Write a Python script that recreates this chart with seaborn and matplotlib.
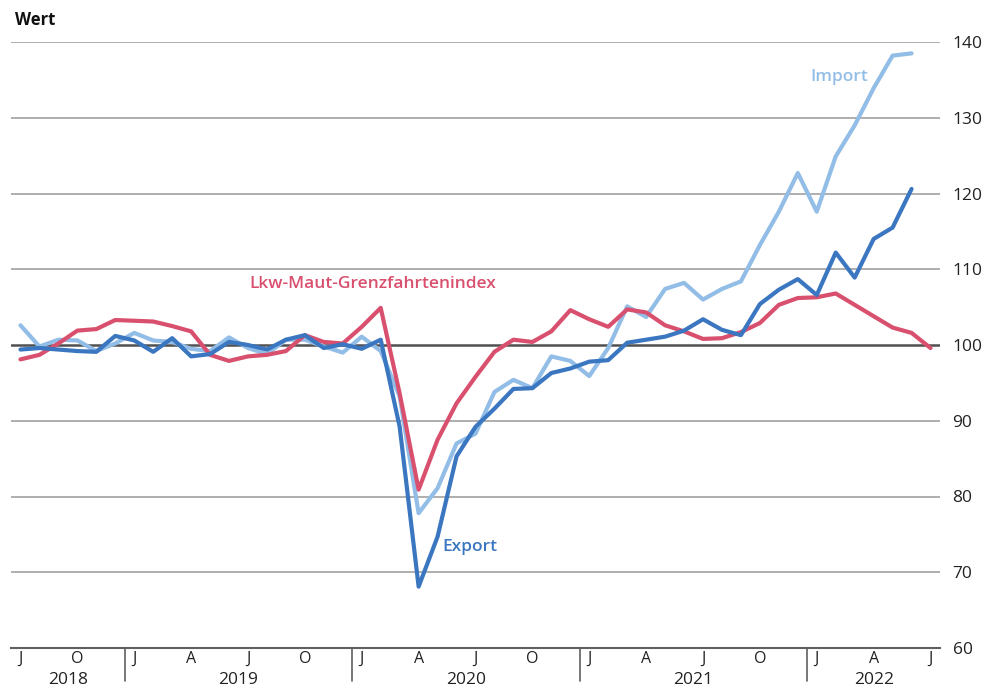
import pandas as pd
import matplotlib.pyplot as plt
import seaborn as sns

# monthly values, Jul 2018 .. Jul 2022
month_letters = ["J", "O", "J", "A"]
years = ["2018", "2019", "2020", "2021", "2022"]
year_start_month = 7  # series starts in July 2018

lkw = [98.1, 98.7, 100.2, 101.9, 102.1, 103.3, 103.2, 103.1, 102.5, 101.8,
       98.7, 97.9, 98.5, 98.7, 99.2, 101.3, 100.4, 100.2, 102.4, 104.9,
       93.6, 80.9, 87.5, 92.3, 95.8, 99.1, 100.7, 100.4, 101.8, 104.6,
       103.4, 102.4, 104.7, 104.3, 102.6, 101.8, 100.8, 100.9, 101.7, 102.9,
       105.3, 106.2, 106.3, 106.8, 105.3, 103.8, 102.3, 101.6, 99.6]

imp = [102.6, 99.8, 100.7, 100.6, 99.2, 100.2, 101.6, 100.6, 100.4, 99.5,
       99.2, 101.0, 99.6, 98.8, 100.7, 100.7, 99.8, 99.0, 101.1, 99.2,
       93.2, 77.8, 81.1, 87.0, 88.3, 93.8, 95.4, 94.3, 98.5, 97.9,
       95.9, 99.6, 105.1, 103.7, 107.4, 108.2, 106.0, 107.4, 108.4, 113.2,
       117.6, 122.7, 117.6, 124.9, 129.0, 133.9, 138.2, 138.5]

exp = [99.4, 99.6, 99.4, 99.2, 99.1, 101.2, 100.6, 99.1, 100.9, 98.5,
       98.8, 100.4, 100.0, 99.4, 100.7, 101.3, 99.6, 100.1, 99.5, 100.7,
       89.2, 68.1, 74.7, 85.3, 89.2, 91.6, 94.2, 94.3, 96.3, 96.9,
       97.8, 98.0, 100.3, 100.7, 101.1, 101.9, 103.4, 102.0, 101.3, 105.4,
       107.3, 108.7, 106.6, 112.2, 108.9, 114.0, 115.5, 120.6]

c_lkw = "#d9506f"
c_imp = "#92bde6"
c_exp = "#3b76c0"

n = len(lkw)
df_lkw = pd.DataFrame({"t": range(len(lkw)), "v": lkw})
df_imp = pd.DataFrame({"t": range(len(imp)), "v": imp})
df_exp = pd.DataFrame({"t": range(len(exp)), "v": exp})

sns.set_style("white")
plt.rcParams["font.family"] = ["Open Sans", "DejaVu Sans"]

fig = plt.figure(figsize=(9.94, 6.89), dpi=100)
ax = fig.add_axes([11 / 994, 41 / 689, 929 / 994, 606 / 689])

for yv in range(60, 141, 10):
    if yv != 100:
        ax.axhline(yv, color="#a8a8a8", lw=1.3, zorder=1)
ax.axhline(100, color="#505050", lw=1.8, zorder=1)

sns.lineplot(data=df_imp, x="t", y="v", color=c_imp, lw=3, ax=ax, zorder=3)
sns.lineplot(data=df_lkw, x="t", y="v", color=c_lkw, lw=3, ax=ax, zorder=4)
sns.lineplot(data=df_exp, x="t", y="v", color=c_exp, lw=3, ax=ax, zorder=5)

ax.set_xlim(-0.5, n - 0.5)
ax.set_ylim(60, 140)

for s in ["top", "left", "right"]:
    ax.spines[s].set_visible(False)
ax.spines["bottom"].set_color("#606060")
ax.spines["bottom"].set_linewidth(1.5)

# y axis on the right
ax.yaxis.tick_right()
ax.set_yticks(range(60, 141, 10))
ax.tick_params(axis="y", length=0, pad=9, labelsize=12.5, labelcolor="#222222")
ax.set_xlabel("")
ax.set_ylabel("")

# month boundary ticks, month letters between them
ax.set_xticks([i - 0.5 for i in range(n + 1)])
ax.set_xticklabels([])
ax.tick_params(axis="x", which="major", length=6, width=1, color="#606060", direction="out")
lab_pos = list(range(0, n, 3))
ax.set_xticks(lab_pos, minor=True)
ax.set_xticklabels([month_letters[k % 4] for k in range(len(lab_pos))], minor=True)
ax.tick_params(axis="x", which="minor", length=0, pad=2, labelsize=11.5, labelcolor="#222222")

# year separators and year labels
xt = ax.get_xaxis_transform()
first_jan = 13 - year_start_month
bounds = [-0.5] + [first_jan - 0.5 + 12 * k for k in range(len(years) - 1)] + [n - 0.5]
for k, yr in enumerate(years):
    if k > 0:
        ax.plot([bounds[k], bounds[k]], [0, -0.055], transform=xt, color="#606060",
                lw=1.2, clip_on=False)
    ax.text((bounds[k] + bounds[k + 1]) / 2, -0.052, yr, transform=xt, ha="center",
            va="center", fontsize=12.5, color="#222222")

fig.text(15 / 994, 1 - 20 / 689, "Wert", fontsize=12, fontweight="bold",
         ha="left", va="center", color="#111111")

ax.text(18.6, 108.0, "Lkw-Maut-Grenzfahrtenindex", color=c_lkw, fontsize=12.5,
        fontweight="semibold", ha="center", va="center")
ax.text(23.7, 73.3, "Export", color=c_exp, fontsize=12.5, fontweight="semibold",
        ha="center", va="center")
ax.text(43.2, 135.4, "Import", color=c_imp, fontsize=12.5, fontweight="semibold",
        ha="center", va="center")

fig.savefig("out.png", dpi=100)
